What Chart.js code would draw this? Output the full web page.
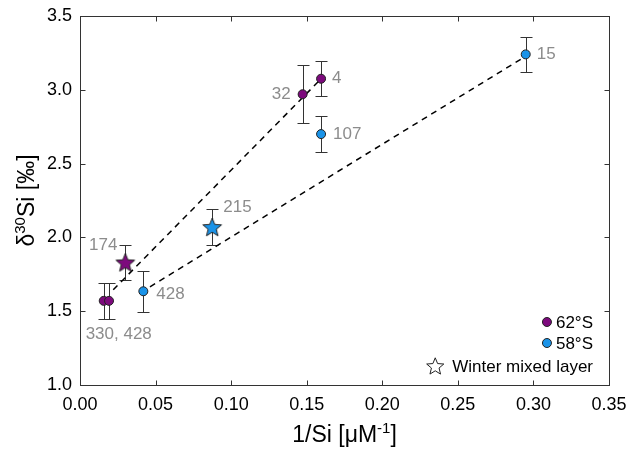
<!doctype html>
<html lang="en">
  <head>
    <meta charset="utf-8">
    <title>d30Si vs 1/Si</title>
    <script src="https://cdn.jsdelivr.net/npm/chart.js"></script>
    <style>
      body { margin: 0; background: #fff; }
    </style>
  </head>
  <body>
    <canvas id="chart" width="627" height="450"></canvas>

    <script>
    // 62°S stations
    const x62 = [0.1595, 0.1473, 0.0157, 0.0192];
    const y62 = [3.075, 2.97, 1.57, 1.57];
    const e62 = [0.12, 0.195, 0.12, 0.12];
    const lab62 = ['4', '32', '330, 428', ''];

    // 58°S stations
    const x58 = [0.2949, 0.1595, 0.0419];
    const y58 = [3.24, 2.70, 1.635];
    const e58 = [0.12, 0.12, 0.14];
    const lab58 = ['15', '107', '428'];

    // winter mixed layer (62°S, 58°S)
    const xWml = [0.030, 0.0875];
    const yWml = [1.83, 2.07];
    const eWml = [0.117, 0.12];
    const labWml = ['174', '215'];

    // dashed fit lines (end points)
    const fit62X = [0.022, 0.161];
    const fit62Y = [1.645, 3.09];
    const fit58X = [0.0463, 0.2945];
    const fit58Y = [1.665, 3.225];

    const xTicks = [0, 0.05, 0.10, 0.15, 0.20, 0.25, 0.30, 0.35];
    const yTicks = [1.0, 1.5, 2.0, 2.5, 3.0, 3.5];

    const PURPLE = '#7d0a7d';
    const BLUE = '#1a93e8';
    const FONT = '"Liberation Sans", Arial, sans-serif';

    // label placement, same order as the label arrays
    const off62 = [[11, 0, 'left'], [-12, 0, 'right'], [15, 33, 'center'], [0, 0, 'left']];
    const off58 = [[11, 0, 'left'], [12, 0, 'left'], [13, 3, 'left']];
    const offWml = [[-8, -17, 'right'], [11, -20, 'left']];

    function starPath(ctx, cx, cy, R, r) {
      ctx.beginPath();
      for (let i = 0; i < 10; i++) {
        const rad = i % 2 ? r : R;
        const a = -Math.PI / 2 + i * Math.PI / 5;
        ctx.lineTo(cx + rad * Math.cos(a), cy + rad * Math.sin(a));
      }
      ctx.closePath();
    }

    function makeStar(fill) {
      const c = document.createElement('canvas');
      c.width = 24; c.height = 24;
      const g = c.getContext('2d');
      starPath(g, 12, 12.8, 9.8, 4.3);
      g.fillStyle = fill;
      g.fill();
      g.strokeStyle = '#222';
      g.lineWidth = 1;
      g.stroke();
      return c;
    }
    const stars = [makeStar(PURPLE), makeStar(BLUE)];

    const pts = (xs, ys) => xs.map((v, i) => ({x: v, y: ys[i]}));

    const decor = {
      id: 'decor',
      beforeDatasetsDraw(chart) {
        const {ctx, scales: {x, y}} = chart;
        ctx.save();
        ctx.strokeStyle = '#333';
        ctx.lineWidth = 1;
        [[x62, y62, e62], [x58, y58, e58], [xWml, yWml, eWml]].forEach(([xs, ys, es]) => {
          xs.forEach((v, i) => {
            const px = Math.round(x.getPixelForValue(v)) + 0.5;
            const top = Math.round(y.getPixelForValue(ys[i] + es[i])) + 0.5;
            const bot = Math.round(y.getPixelForValue(ys[i] - es[i])) + 0.5;
            ctx.beginPath();
            ctx.moveTo(px, top); ctx.lineTo(px, bot);
            ctx.moveTo(px - 6, top); ctx.lineTo(px + 6, top);
            ctx.moveTo(px - 6, bot); ctx.lineTo(px + 6, bot);
            ctx.stroke();
          });
        });
        ctx.restore();
      },
      afterDraw(chart) {
        const {ctx, chartArea: a, scales: {x, y}} = chart;
        const L = Math.round(a.left) + 0.5, R = Math.round(a.right) + 0.5;
        const T = Math.round(a.top) + 0.5, B = Math.round(a.bottom) + 0.5;
        ctx.save();
        // frame + inward ticks
        ctx.strokeStyle = '#333';
        ctx.lineWidth = 1;
        ctx.strokeRect(L, T, R - L, B - T);
        ctx.beginPath();
        xTicks.forEach(v => {
          const px = Math.round(x.getPixelForValue(v)) + 0.5;
          ctx.moveTo(px, B); ctx.lineTo(px, B - 5);
          ctx.moveTo(px, T); ctx.lineTo(px, T + 5);
        });
        yTicks.forEach(v => {
          const py = Math.round(y.getPixelForValue(v)) + 0.5;
          ctx.moveTo(L, py); ctx.lineTo(L + 5, py);
          ctx.moveTo(R, py); ctx.lineTo(R - 5, py);
        });
        ctx.stroke();

        // point labels
        ctx.fillStyle = '#8c8c8c';
        ctx.font = '17px ' + FONT;
        ctx.textBaseline = 'middle';
        [[x62, y62, lab62, off62], [x58, y58, lab58, off58], [xWml, yWml, labWml, offWml]].forEach(([xs, ys, labs, offs]) => {
          labs.forEach((t, i) => {
            if (!t) return;
            ctx.textAlign = offs[i][2];
            ctx.fillText(t, x.getPixelForValue(xs[i]) + offs[i][0], y.getPixelForValue(ys[i]) + offs[i][1]);
          });
        });

        // legend
        ctx.font = '17px ' + FONT;
        ctx.textAlign = 'right';
        const tx = a.right - 16;
        const rows = [['62°S', PURPLE, a.bottom - 63], ['58°S', BLUE, a.bottom - 42], ['Winter mixed layer', null, a.bottom - 19]];
        rows.forEach(([t, col, ry]) => {
          ctx.fillStyle = '#000';
          ctx.fillText(t, tx, ry + 1);
          const w = ctx.measureText(t).width;
          ctx.strokeStyle = '#222';
          if (col) {
            ctx.beginPath();
            ctx.arc(tx - w - 9, ry, 4.5, 0, Math.PI * 2);
            ctx.fillStyle = col;
            ctx.fill();
            ctx.stroke();
          } else {
            starPath(ctx, tx - w - 17, ry + 0.8, 9, 4);
            ctx.fillStyle = '#fff';
            ctx.fill();
            ctx.stroke();
          }
        });

        // axis titles with superscripts
        ctx.fillStyle = '#000';
        ctx.textBaseline = 'alphabetic';
        ctx.textAlign = 'left';
        const big = '23px ' + FONT, small = '15px ' + FONT;
        const parts = (list) => list.map(([s, f, up]) => { ctx.font = f; return [s, f, up, ctx.measureText(s).width]; });

        const xp = parts([['1/Si [\u03bcM', big, 0], ['-1', small, 9], [']', big, 0]]);
        let cx = (a.left + a.right) / 2 - xp.reduce((s, p) => s + p[3], 0) / 2;
        xp.forEach(([s, f, up, w]) => { ctx.font = f; ctx.fillText(s, cx, 442 - up); cx += w; });

        const yp = parts([['\u03b4', big, 0], ['30', small, 9], ['Si [\u2030]', big, 0]]);
        ctx.translate(34, (a.top + a.bottom) / 2);
        ctx.rotate(-Math.PI / 2);
        let cy = -yp.reduce((s, p) => s + p[3], 0) / 2;
        yp.forEach(([s, f, up, w]) => { ctx.font = f; ctx.fillText(s, cy, -up); cy += w; });
        ctx.restore();
      }
    };

    const tickFont = {family: FONT, size: 18};

    new Chart(document.getElementById('chart'), {
      type: 'scatter',
      data: {
        datasets: [
          {
            type: 'line', label: 'fit 62', data: pts(fit62X, fit62Y),
            borderColor: '#000', borderWidth: 1.5, borderDash: [6, 5],
            pointRadius: 0, fill: false, order: 5
          },
          {
            type: 'line', label: 'fit 58', data: pts(fit58X, fit58Y),
            borderColor: '#000', borderWidth: 1.5, borderDash: [6, 5],
            pointRadius: 0, fill: false, order: 5
          },
          {
            label: '62°S', data: pts(x62, y62),
            backgroundColor: PURPLE, borderColor: '#222', borderWidth: 1,
            pointRadius: 4.5, order: 1
          },
          {
            label: '58°S', data: pts(x58, y58),
            backgroundColor: BLUE, borderColor: '#222', borderWidth: 1,
            pointRadius: 4.5, order: 1
          },
          {
            label: 'Winter mixed layer', data: pts(xWml, yWml),
            pointStyle: ctx => stars[ctx.dataIndex],
            pointRadius: 10, order: 0
          }
        ]
      },
      options: {
        responsive: false,
        animation: false,
        devicePixelRatio: 1,
        layout: {padding: {top: 16, right: 18, left: 0, bottom: 0}},
        plugins: {legend: {display: false}, tooltip: {enabled: false}},
        scales: {
          x: {
            type: 'linear', min: 0, max: 0.35,
            grid: {display: false, drawTicks: false},
            border: {display: false},
            afterBuildTicks: s => { s.ticks = xTicks.map(v => ({value: v})); },
            afterFit: s => { s.height = 65; s.paddingLeft = 0; s.paddingRight = 0; },
            ticks: {font: tickFont, color: '#000', padding: 9, maxRotation: 0,
                    callback: v => v.toFixed(2)}
          },
          y: {
            type: 'linear', min: 1, max: 3.5,
            grid: {display: false, drawTicks: false},
            border: {display: false},
            afterBuildTicks: s => { s.ticks = yTicks.map(v => ({value: v})); },
            afterFit: s => { s.width = 80; s.paddingTop = 0; s.paddingBottom = 0; },
            ticks: {font: tickFont, color: '#000', padding: 8,
                    callback: v => v.toFixed(1)}
          }
        }
      },
      plugins: [decor]
    });
    </script>
  </body>
</html>
